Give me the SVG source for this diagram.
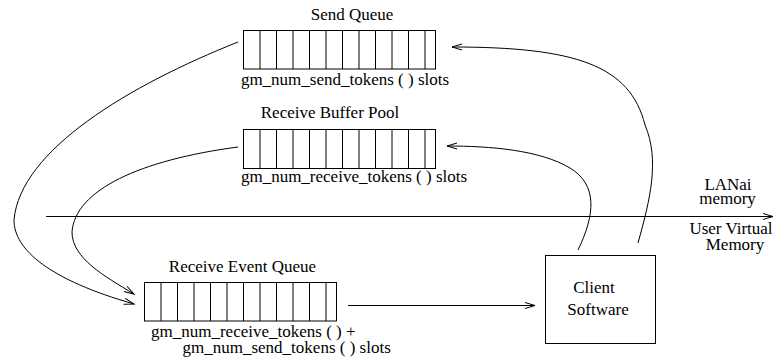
<svg xmlns="http://www.w3.org/2000/svg" width="775" height="358" viewBox="0 0 775 358">
  <style>
    .box { fill: none; stroke: #000; stroke-width: 1; }
    .wire { fill: none; stroke: #000; stroke-width: 1; marker-end: url(#arrow); }
    .lbl { font-family: "Liberation Serif", "Times New Roman", serif; font-size: 17px; fill: #000; }
    .mid { text-anchor: middle; }
  </style>
  <defs>
    <marker id="arrow" viewBox="-12 -5 14 10" refX="0" refY="0" markerWidth="14" markerHeight="10" orient="auto" markerUnits="userSpaceOnUse">
      <path d="M-10,-3 L0,0 L-10,3" fill="none" stroke="#000" stroke-width="1"/>
    </marker>
  </defs>
  <rect width="775" height="358" fill="#fff"/>

  <!-- Send Queue -->
  <g id="send-queue">
    <text class="lbl mid" x="352" y="20">Send Queue</text>
    <rect class="box" x="243.5" y="30.5" width="192" height="38.5"/>
    <path class="box" d="M260,30.5V69 M276.5,30.5V69 M293,30.5V69 M309.5,30.5V69 M326,30.5V69 M342.5,30.5V69 M359,30.5V69 M375.5,30.5V69 M392,30.5V69 M408.5,30.5V69 M425,30.5V69"/>
    <text class="lbl mid" x="345" y="85">gm_num_send_tokens ( ) slots</text>
  </g>

  <!-- Receive Buffer Pool -->
  <g id="receive-buffer-pool">
    <text class="lbl mid" x="330" y="118">Receive Buffer Pool</text>
    <rect class="box" x="243.5" y="129.5" width="192" height="39"/>
    <path class="box" d="M260,129.5V168.5 M276.5,129.5V168.5 M293,129.5V168.5 M309.5,129.5V168.5 M326,129.5V168.5 M342.5,129.5V168.5 M359,129.5V168.5 M375.5,129.5V168.5 M392,129.5V168.5 M408.5,129.5V168.5 M425,129.5V168.5"/>
    <text class="lbl mid" x="354" y="182">gm_num_receive_tokens ( ) slots</text>
  </g>

  <!-- Receive Event Queue -->
  <g id="receive-event-queue">
    <text class="lbl mid" x="242.5" y="271.5">Receive Event Queue</text>
    <rect class="box" x="144.5" y="282.5" width="192" height="38.5"/>
    <path class="box" d="M161,282.5V321 M177.5,282.5V321 M194,282.5V321 M210.5,282.5V321 M227,282.5V321 M243.5,282.5V321 M260,282.5V321 M276.5,282.5V321 M293,282.5V321 M309.5,282.5V321 M326,282.5V321"/>
    <text class="lbl" x="151" y="336.5">gm_num_receive_tokens ( ) +</text>
    <text class="lbl" x="182.5" y="352.5">gm_num_send_tokens ( ) slots</text>
  </g>

  <!-- Client Software -->
  <g id="client-software">
    <rect class="box" x="545.5" y="255.5" width="110" height="88"/>
    <text class="lbl mid" x="594" y="293">Client</text>
    <text class="lbl mid" x="598" y="315">Software</text>
  </g>

  <!-- Memory boundary labels -->
  <g id="memory-labels">
    <text class="lbl mid" x="728" y="190">LANai</text>
    <text class="lbl mid" x="727.5" y="204">memory</text>
    <text class="lbl mid" x="731" y="234">User Virtual</text>
    <text class="lbl mid" x="735" y="250">Memory</text>
  </g>

  <!-- Connectors -->
  <g id="connectors">
    <path class="wire" d="M46,216.5 L773,216.5"/>
    <path class="wire" d="M348,305.5 L535,305.5"/>
    <path class="wire" d="M238,42 C130,85 20,150 14,220 C14,250 50,280 134,304"/>
    <path class="wire" d="M238,147 C140,160 75,190 72,232 C72,258 104,276 134,294"/>
    <path class="wire" d="M578,250 C595,215 598,185 570,168 C540,150 490,146 447,146"/>
    <path class="wire" d="M638,243 C650,200 660,160 645,125 C630,65 575,47 452,47"/>
  </g>
</svg>
